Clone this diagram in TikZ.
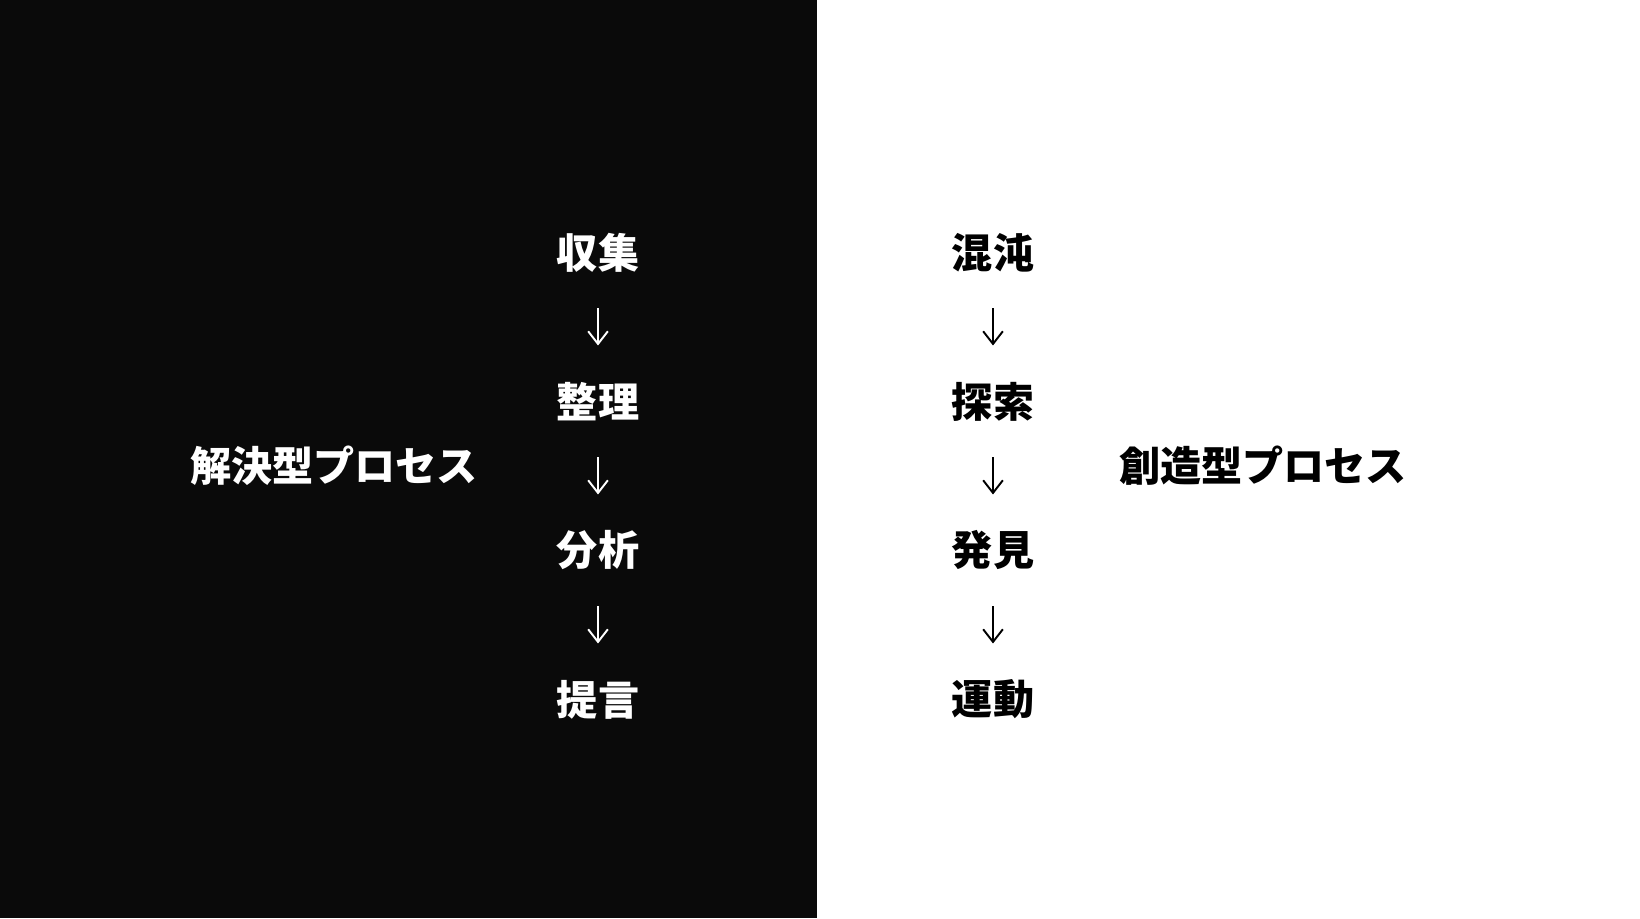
\documentclass[tikz,border=0pt]{standalone}
\usepackage{fontspec}
\newfontfamily\jpfont{Noto Sans CJK JP}
\usetikzlibrary{arrows.meta, positioning}

\definecolor{nearblack}{HTML}{0A0A0A}

\tikzset{
  word/.style = {font=\jpfont\bfseries\fontsize{11.7}{14}\selectfont, inner sep=0pt},
  step arrow/.style = {-{Straight Barb[length=3.6pt, width=5.6pt]}, line width=0.55pt,
                       shorten <=0.56cm, shorten >=0.56cm}
}

\begin{document}
\begin{tikzpicture}[node distance = 1.49cm, on grid]
                \fill [nearblack] (0,0) rectangle (8.17,9.18);
                \useasboundingbox (0,0) rectangle (16.4,9.18);

                % solving side
                \node (collect) [word, white] at (5.98,6.655) {収集};
                \node (arrange) [word, white, below=of collect] {整理};
                \node (analyse) [word, white, below=of arrange] {分析};
                \node (propose) [word, white, below=of analyse] {提言};
                \node (solving) [word, white] at (3.34,4.525) {解決型プロセス};

                \path [step arrow, white]
                    (collect.center) edge (arrange.center)
                    (arrange.center) edge (analyse.center)
                    (analyse.center) edge (propose.center);

                % creating side
                \node (chaos) [word, black] at (9.93,6.655) {混沌};
                \node (explore) [word, black, below=of chaos] {探索};
                \node (discover) [word, black, below=of explore] {発見};
                \node (movement) [word, black, below=of discover] {運動};
                \node (creating) [word, black] at (12.63,4.525) {創造型プロセス};

                \path [step arrow, black]
                    (chaos.center) edge (explore.center)
                    (explore.center) edge (discover.center)
                    (discover.center) edge (movement.center);
            \end{tikzpicture}
\end{document}
